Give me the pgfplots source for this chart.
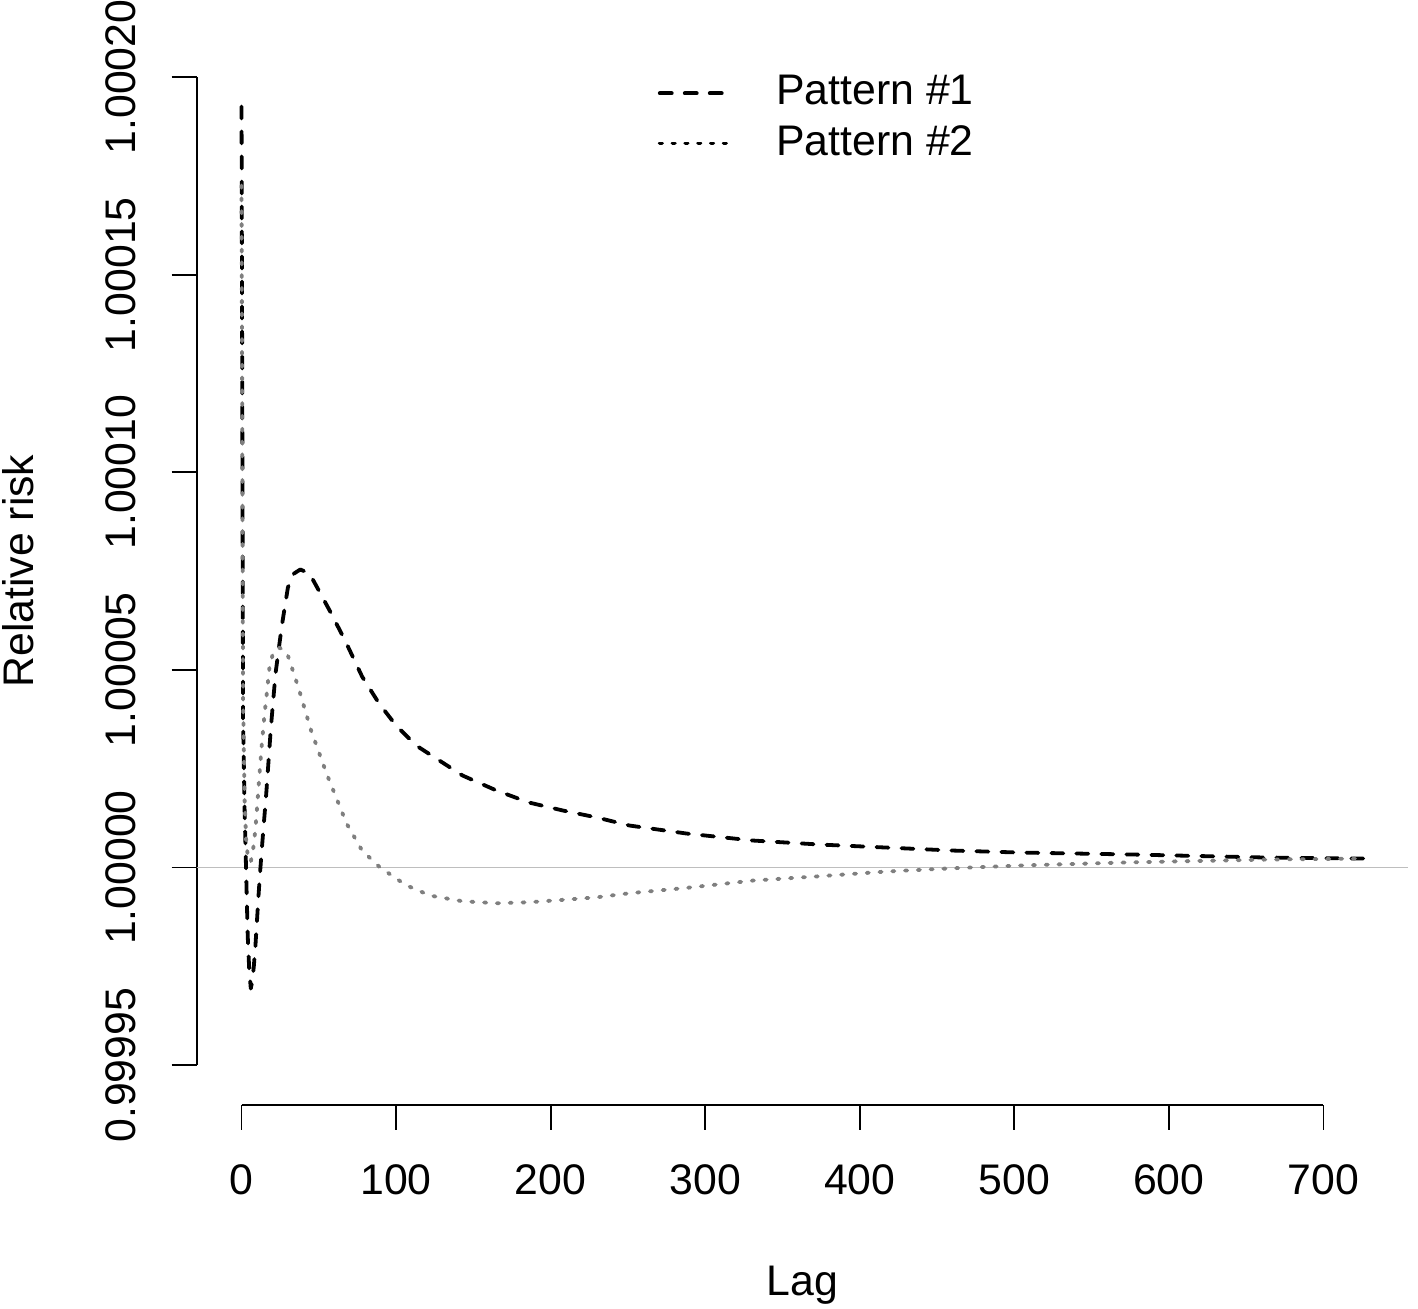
\documentclass[border=0pt]{standalone}
\usepackage{fontspec}
\setmainfont{Liberation Sans}
\usepackage{pgfplots}
\pgfplotsset{compat=1.18}
\definecolor{rgrey}{HTML}{BEBEBE}
\definecolor{dotgrey}{HTML}{7F7F7F}
\begin{document}
\fontsize{10.7}{12.8}\selectfont
\begin{tikzpicture}
\begin{axis}[
  at={(0,0)}, anchor=south west,
  scale only axis, width=302.95pt, height=266.8pt,
  xmin=-29, xmax=755, ymin=-6, ymax=21,
  axis line style={draw=none},
  tick pos=left, tick align=outside,
  major tick length=6.25pt,
  tick style={black, line width=0.45pt},
  xtick={0,100,200,300,400,500,600,700},
  xticklabels={0,100,200,300,400,500,600,700},
  ytick={-5,0,5,10,15,20},
  yticklabels={0.99995,1.00000,1.00005,1.00010,1.00015,1.00020},
  xticklabel style={anchor=base, font=\fontsize{10.7}{12.8}\selectfont},
  xticklabel shift=16.2pt,
  yticklabel style={rotate=90, anchor=base, font=\fontsize{10.7}{12.8}\selectfont},
  yticklabel shift=8.95pt,
  xlabel={Lag},
  xlabel style={at={(axis description cs:0.5,-0.17916)}, anchor=base, font=\fontsize{10.7}{12.8}\selectfont},
  ylabel={Relative risk},
  ylabel style={at={(axis description cs:-0.13468,0.5)}, rotate=0, anchor=base, font=\fontsize{10.7}{12.8}\selectfont},
  legend image code/.code={\draw[#1] (0pt,0pt) -- (17.75pt,0pt);},
  legend cell align=left,
  legend style={draw=none, fill=none, at={(axis description cs:0.3799,0.9652)}, anchor=north west,
    inner sep=0pt, font=\fontsize{10.7}{12.8}\selectfont,
    nodes={inner sep=0pt}, row sep=3.5pt,
    /tikz/every odd column/.append style={column sep=10.9pt}},
  clip=false,
]
% axis lines in R style
\draw[line width=0.45pt] (axis cs:-29,-5) -- (axis cs:-29,20);
\draw[line width=0.45pt] (axis cs:0,-6) -- (axis cs:700,-6);
\addlegendimage{black, line width=0.95pt, dash pattern=on 3pt off 3.25pt, line cap=round}
\addlegendentry{Pattern \#1}
\addlegendimage{black, line width=0.95pt, dash pattern=on 0.55pt off 2.65pt, line cap=round}
\addlegendentry{Pattern \#2}
\addplot[rgrey, line width=0.3pt, forget plot] coordinates {(-29,0) (755,0)};
\addplot[black, line width=0.95pt, dash pattern=on 3pt off 3.25pt, line cap=round, line join=round, forget plot] coordinates {
(0,19.256) (1,3.720) (2,1.442) (3,-0.152) (4,-1.721) (5,-2.606) (6,-3.062) (7,-2.859) (8,-2.480) (9,-1.974) (10,-1.341) (11,-0.709) (12,-0.127) (13,0.40) (14,0.90) (16,1.872) (19,3.543) (22,4.909) (26,6.098) (30,7.085) (34,7.439) (38,7.541) (44,7.439) (50,7.009) (57,6.503) (67,5.744) (78,4.833) (89,4.150) (100,3.593) (113,3.087) (128,2.708) (143,2.328) (165,1.948) (186,1.645) (208,1.442) (230,1.265) (251,1.063) (288,0.860) (331,0.683) (374,0.582) (417,0.506) (460,0.430) (503,0.380) (577,0.329) (663,0.253) (726,0.228)
};
\addplot[dotgrey, line width=0.95pt, dash pattern=on 0.55pt off 2.65pt, line cap=round, line join=round, forget plot] coordinates {
(0,17.257) (1,4.226) (2,1.695) (3,0.683) (4,0.304) (5,0.152) (6,0.152) (7,0.329) (8,0.607) (9,0.987) (10,1.493) (11,2.024) (12,2.556) (13,3.062) (15,3.922) (16,4.276) (17,4.656) (18,5.035) (19,5.213) (20,5.364) (21,5.466) (24,5.567) (27,5.516) (30,5.364) (37,4.529) (45,3.467) (55,2.379) (68,1.113) (78,0.430) (89,0.025) (100,-0.278) (107,-0.455) (122,-0.709) (143,-0.853) (165,-0.903) (186,-0.878) (208,-0.817) (230,-0.752) (251,-0.650) (288,-0.514) (331,-0.329) (374,-0.220) (417,-0.101) (460,-0.018) (503,0.051) (577,0.134) (663,0.202) (726,0.228)
};
\end{axis}
\pgfresetboundingbox
\path[use as bounding box] (-49.18pt,-51.08pt) rectangle (305.33pt,276.18pt);
\end{tikzpicture}
\end{document}
